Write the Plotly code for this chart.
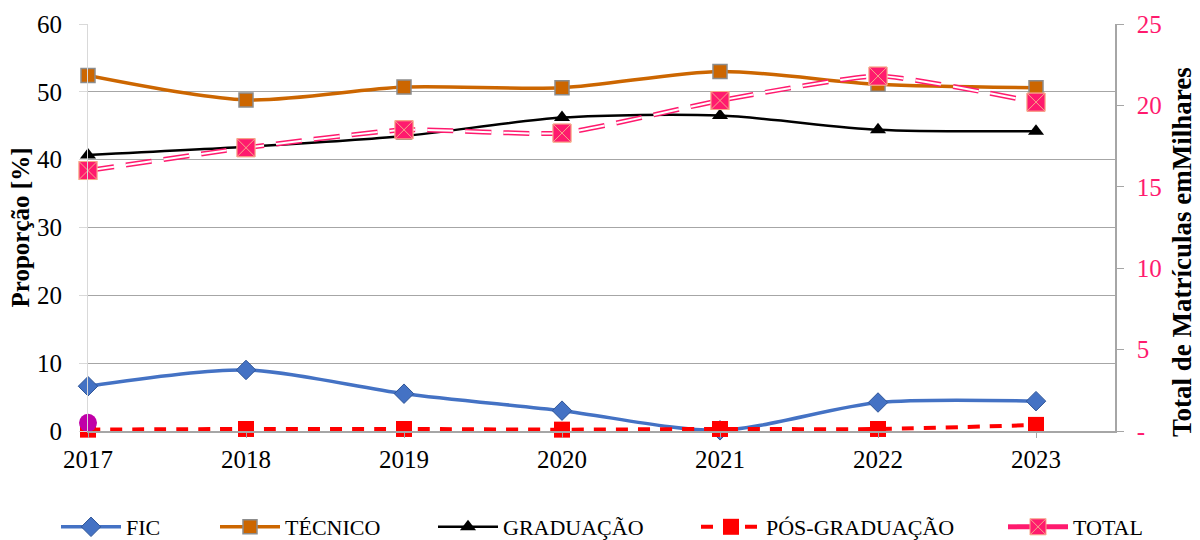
import plotly.graph_objects as go

anos = ["2017", "2018", "2019", "2020", "2021", "2022", "2023"]

# Proporção de matrículas por tipo de curso [%]
fic = [6.6, 9.0, 5.5, 3.0, 0.1, 4.2, 4.4]
tecnico = [52.4, 48.8, 50.7, 50.6, 53.0, 51.1, 50.6]
graduacao = [40.7, 41.9, 43.5, 46.2, 46.5, 44.4, 44.2]
pos_graduacao = [0.2, 0.3, 0.3, 0.2, 0.3, 0.3, 0.9]

# Total de matrículas (milhares), eixo da direita
total = [16.0, 17.4, 18.5, 18.3, 20.3, 21.8, 20.2]

# ponto isolado em 2017
ponto_2017 = [1.2]

ticks_esq = [0, 10, 20, 30, 40, 50, 60]
ticks_dir = [0, 5, 10, 15, 20, 25]
ticks_dir_txt = ["-", "5", "10", "15", "20", "25"]

FONTE = "Liberation Serif, Times New Roman, serif"
ROSA = "#FF1A6E"
W, H = 1200, 540
L, R, T, B = 88, 85, 24, 109

fig = go.Figure()

fig.add_trace(go.Scatter(
    x=anos, y=fic, name="FIC", mode="lines+markers", legend="legend",
    line=dict(color="#4472C4", width=3.5, shape="spline", smoothing=0.8),
    marker=dict(symbol="diamond", size=15, color="#4472C4",
                line=dict(color="#2F5597", width=1)),
    cliponaxis=False))

fig.add_trace(go.Scatter(
    x=anos, y=tecnico, name="TÉCNICO", mode="lines+markers", legend="legend2",
    line=dict(color="#CC6600", width=3.5, shape="spline", smoothing=0.8),
    marker=dict(symbol="square", size=14, color="#CC6600",
                line=dict(color="#8C8C8C", width=1.5)),
    cliponaxis=False))

fig.add_trace(go.Scatter(
    x=anos, y=graduacao, name="GRADUAÇÃO", mode="lines+markers", legend="legend3",
    line=dict(color="black", width=2.5, shape="spline", smoothing=0.8),
    marker=dict(symbol="triangle-up", size=14, color="black"),
    cliponaxis=False))

fig.add_trace(go.Scatter(
    x=anos, y=pos_graduacao, name="PÓS-GRADUAÇÃO", mode="lines+markers", legend="legend4",
    line=dict(color="#FF0000", width=4, dash="12px,10px", shape="spline", smoothing=0.8),
    marker=dict(symbol="square", size=16, color="#FF0000"),
    cliponaxis=False))

# linha dupla (contorno rosa com miolo branco) para o total
fig.add_trace(go.Scatter(
    x=anos, y=total, name="TOTAL", mode="lines+markers", yaxis="y2", legend="legend5",
    line=dict(color=ROSA, width=5, dash="26px,12px", shape="spline", smoothing=0.5),
    marker=dict(symbol="square-x", size=18, color=ROSA,
                line=dict(color="#F7A98A", width=1)),
    cliponaxis=False))
fig.add_trace(go.Scatter(
    x=anos, y=total, mode="lines", yaxis="y2", showlegend=False,
    line=dict(color="white", width=2, dash="26px,12px", shape="spline", smoothing=0.5),
    hoverinfo="skip", cliponaxis=False))
fig.add_trace(go.Scatter(
    x=anos, y=total, mode="markers", yaxis="y2", showlegend=False,
    marker=dict(symbol="square-x", size=18, color=ROSA,
                line=dict(color="#F7A98A", width=1)),
    cliponaxis=False))

fig.add_trace(go.Scatter(
    x=anos[:1], y=ponto_2017, mode="markers", showlegend=False,
    marker=dict(symbol="circle", size=18, color="#C000A8"),
    cliponaxis=False))


def legenda(px_x):
    # uma legenda por série, posicionada em pixels da janela
    return dict(
        orientation="h", xref="container", yref="container",
        x=px_x / W, xanchor="left", y=1 - 527 / H, yanchor="middle",
        font=dict(family=FONTE, size=22, color="black"),
        itemwidth=60, bgcolor="rgba(0,0,0,0)", borderwidth=0)


plot_w = W - L - R
plot_h = H - T - B

fig.update_layout(
    width=W, height=H,
    margin=dict(l=L, r=R, t=T, b=B, autoexpand=False),
    paper_bgcolor="white", plot_bgcolor="white",
    font=dict(family=FONTE, size=25, color="black"),
    xaxis=dict(
        type="category", range=[0, 6.5],
        showline=True, linecolor="#A6A6A6", linewidth=1.5,
        ticks="outside", tickcolor="#A6A6A6", ticklen=5,
        showgrid=False, tickfont=dict(size=25)),
    yaxis=dict(
        range=[0, 60], tickvals=ticks_esq,
        showline=True, linecolor="#D9D9D9", linewidth=1,
        showgrid=True, gridcolor="#A6A6A6", gridwidth=1,
        zeroline=False, ticks="outside", tickcolor="#D9D9D9", ticklen=8,
        ticklabelstandoff=12, tickfont=dict(size=25),
        title=dict(text="<b>Proporção [%]</b>", font=dict(size=25), standoff=0)),
    yaxis2=dict(
        overlaying="y", side="right", range=[0, 25],
        tickvals=ticks_dir, ticktext=ticks_dir_txt,
        showline=True, linecolor="#A6A6A6", linewidth=1.5,
        ticks="outside", tickcolor="#A6A6A6", ticklen=7,
        ticklabelstandoff=8,
        showgrid=False, zeroline=False,
        tickfont=dict(size=25, color=ROSA)),
    annotations=[dict(
        text="<b>Total de Matrículas emMilhares</b>", textangle=-90,
        xref="paper", yref="paper",
        x=(1182 - L) / plot_w, y=(H - B - 252) / plot_h,
        xanchor="center", yanchor="middle", showarrow=False,
        font=dict(family=FONTE, size=27, color="black"))],
    legend=legenda(56),
    legend2=legenda(215),
    legend3=legenda(433),
    legend4=legenda(696),
    legend5=legenda(1003),
)

fig.write_html("out.html")
